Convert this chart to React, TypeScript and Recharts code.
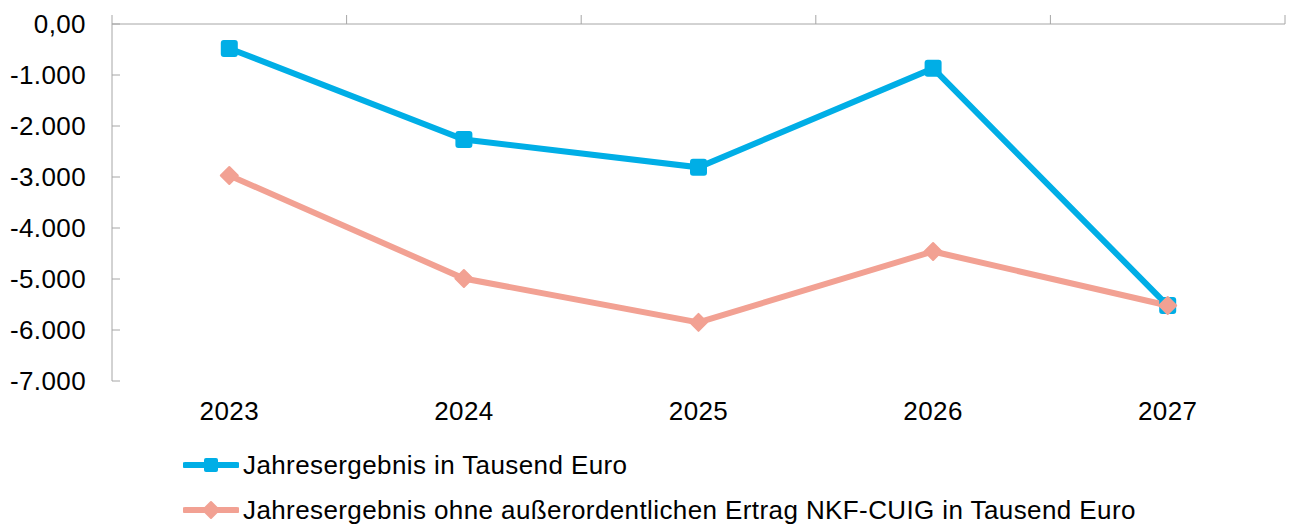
import { Legend, Line, LineChart, XAxis, YAxis } from "recharts";

const years = ["2023", "2024", "2025", "2026", "2027"];
const jahresergebnis = [-480, -2265, -2810, -870, -5520];
const ohneErtrag = [-2970, -4990, -5850, -4460, -5520];
const yTicks = [0, -1000, -2000, -3000, -4000, -5000, -6000, -7000];
const boundaryTicks = [-0.5, 0.5, 1.5, 2.5, 3.5, 4.5];
const yearTicks = [0, 1, 2, 3, 4];

const seriesNames = [
  "Jahresergebnis in Tausend Euro",
  "Jahresergebnis ohne außerordentlichen Ertrag NKF-CUIG in Tausend Euro",
];

const BLUE = "#00aee6";
const SALMON = "#f2a193";
const AXIS = "#a6a6a6";
const FONT = '"Liberation Sans", Arial, sans-serif';
const TEXT = { fill: "#000", fontSize: 26, fontFamily: FONT, letterSpacing: 0.4 };

const data = years.map((year, idx) => ({
  idx,
  year,
  blue: jahresergebnis[idx],
  salmon: ohneErtrag[idx],
}));

function formatDe(v: number) {
  if (v === 0) return "0,00";
  const s = Math.abs(v)
    .toString()
    .replace(/\B(?=(\d{3})+(?!\d))/g, ".");
  return (v < 0 ? "-" : "") + s;
}

function SquareDot(props: any) {
  const { cx, cy } = props;
  if (cx == null || cy == null) return null;
  return <rect x={cx - 8.5} y={cy - 8.5} width={17} height={17} rx={3} fill={BLUE} />;
}

function DiamondDot(props: any) {
  const { cx, cy } = props;
  if (cx == null || cy == null) return null;
  const r = 8.5;
  return (
    <polygon
      points={`${cx},${cy - r} ${cx + r},${cy} ${cx},${cy + r} ${cx - r},${cy}`}
      fill={SALMON}
      stroke={SALMON}
      strokeWidth={2}
      strokeLinejoin="round"
    />
  );
}

function LegendIcon({ color, kind }: { color: string; kind: "square" | "diamond" }) {
  return (
    <svg width={56} height={20} style={{ display: "block" }}>
      <line x1={2} y1={10} x2={54} y2={10} stroke={color} strokeWidth={6} strokeLinecap="round" />
      {kind === "square" ? (
        <rect x={21} y={3} width={14} height={14} rx={2} fill={color} />
      ) : (
        <polygon points="28,2 36,10 28,18 20,10" fill={color} stroke={color} strokeWidth={2} strokeLinejoin="round" />
      )}
    </svg>
  );
}

function ChartLegend() {
  const rows = [
    { name: seriesNames[0], color: BLUE, kind: "square" as const, top: 21 },
    { name: seriesNames[1], color: SALMON, kind: "diamond" as const, top: 66 },
  ];
  return (
    <div
      style={{
        position: "relative",
        width: 1292,
        height: 96,
        fontFamily: FONT,
        fontSize: 26,
        letterSpacing: 0.4,
        color: "#000",
      }}
    >
      {rows.map((r) => (
        <div
          key={r.name}
          style={{ position: "absolute", left: 183, top: r.top, height: 30, display: "flex", alignItems: "center" }}
        >
          <LegendIcon color={r.color} kind={r.kind} />
          <span style={{ marginLeft: 4, whiteSpace: "nowrap" }}>{r.name}</span>
        </div>
      ))}
    </div>
  );
}

export default function App() {
  return (
    <div style={{ position: "absolute", left: 0, top: 0, width: 1292, height: 525, background: "#fff" }}>
      <LineChart width={1292} height={525} data={data} margin={{ top: 0, right: 7, left: 0, bottom: 0 }}>
        <XAxis
          xAxisId="top"
          orientation="top"
          type="number"
          dataKey="idx"
          domain={[-0.5, 4.5]}
          ticks={boundaryTicks}
          tickFormatter={() => ""}
          height={24}
          tickSize={9}
          stroke={AXIS}
          allowDataOverflow
        />
        <XAxis
          xAxisId="bottom"
          orientation="bottom"
          type="number"
          dataKey="idx"
          domain={[-0.5, 4.5]}
          ticks={yearTicks}
          tickFormatter={(i: number) => years[i]}
          height={48}
          axisLine={false}
          tickLine={false}
          tickSize={8}
          tickMargin={13}
          tick={TEXT}
          allowDataOverflow
        />
        <YAxis
          type="number"
          domain={[-7000, 0]}
          ticks={yTicks}
          tickFormatter={formatDe}
          width={112}
          tickSize={-8}
          tickMargin={34}
          stroke={AXIS}
          tick={TEXT}
          interval={0}
        />
        <Legend
          verticalAlign="bottom"
          align="left"
          layout="horizontal"
          content={() => <ChartLegend />}
          wrapperStyle={{ left: 0, bottom: 0, width: 1292, height: 96 }}
        />
        {/* invisible series so the top boundary-tick axis gets its scale */}
        <Line
          xAxisId="top"
          dataKey="blue"
          stroke="none"
          dot={false}
          activeDot={false}
          legendType="none"
          isAnimationActive={false}
        />
        <Line
          xAxisId="bottom"
          dataKey="blue"
          name={seriesNames[0]}
          stroke={BLUE}
          strokeWidth={6}
          dot={<SquareDot />}
          activeDot={false}
          isAnimationActive={false}
        />
        <Line
          xAxisId="bottom"
          dataKey="salmon"
          name={seriesNames[1]}
          stroke={SALMON}
          strokeWidth={6}
          dot={<DiamondDot />}
          activeDot={false}
          isAnimationActive={false}
        />
      </LineChart>
    </div>
  );
}
